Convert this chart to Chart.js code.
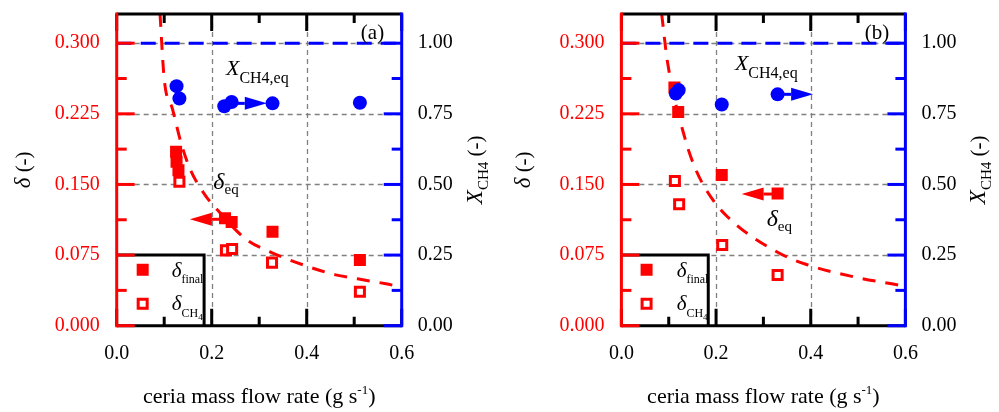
<!DOCTYPE html>
<html><head><meta charset="utf-8">
<script src="https://cdn.jsdelivr.net/npm/chart.js@4.4.0/dist/chart.umd.min.js"></script>
<style>
html,body{margin:0;padding:0;background:#fff;}
#wrap{position:relative;width:999px;height:412px;overflow:hidden;}
.pane{position:absolute;top:0;height:412px;}
#pa{left:0;width:500px;}
#pb{left:500px;width:499px;}
</style></head><body>
<div id="wrap"><div class="pane" id="pa"><canvas id="ca" width="500" height="412"></canvas></div><div class="pane" id="pb"><canvas id="cb" width="499" height="412"></canvas></div></div>
<script>
// ---------- shared axis values ----------
const xTicks = [0, 0.2, 0.4, 0.6];
const xMinorTicks = [0.1, 0.3, 0.5];
const deltaTicks = [0, 0.075, 0.15, 0.225, 0.3];
const deltaMinorTicks = [0.0375, 0.1125, 0.1875, 0.2625];
const xch4Ticks = [0, 0.25, 0.5, 0.75, 1.0];
const xch4MinorTicks = [0.125, 0.375, 0.625, 0.875];
const xGrid = [0.2, 0.4];
const deltaGrid = [0.075, 0.15, 0.225, 0.3];
const X_MIN = 0, X_MAX = 0.6, DELTA_MAX = 0.331, XCH4_MAX = 0.331 / 0.3;

// equilibrium conversion line (X_CH4,eq)
const eqLineX = [0, 0.6];
const eqLineXch4 = [1.0, 1.0];

// ---------- panel (a) ----------
const aFinalX = [0.125, 0.126, 0.130, 0.228, 0.242, 0.328, 0.512];
const aFinalDelta = [0.1847, 0.174, 0.165, 0.114, 0.110, 0.0997, 0.0697];
const aCH4X = [0.132, 0.230, 0.243, 0.327, 0.512];
const aCH4Delta = [0.1528, 0.080, 0.0814, 0.067, 0.036];
const aConvX = [0.126, 0.132, 0.2265, 0.242, 0.328, 0.512];
const aConvXch4 = [0.848, 0.804, 0.777, 0.792, 0.787, 0.789];
const aEqCurveX = [0.0912, 0.1, 0.1175, 0.135, 0.154, 0.1876, 0.2, 0.2718, 0.3227, 0.398, 0.461, 0.507, 0.5665, 0.6];
const aEqCurveDelta = [0.331, 0.262, 0.230, 0.195, 0.167, 0.1376, 0.130, 0.092, 0.0785, 0.0636, 0.054, 0.0498, 0.0445, 0.041];
const aArrowXch4 = [0.242, 0.316, 0.787];   // from x, to x, X_CH4
const aArrowDelta = [0.230, 0.154, 0.113];  // from x, to x, delta

// ---------- panel (b) ----------
const bFinalX = [0.112, 0.120, 0.212, 0.330];
const bFinalDelta = [0.253, 0.227, 0.160, 0.1405];
const bCH4X = [0.113, 0.122, 0.213, 0.330];
const bCH4Delta = [0.1536, 0.129, 0.0856, 0.0538];
const bConvX = [0.115, 0.121, 0.212, 0.330];
const bConvXch4 = [0.822, 0.834, 0.783, 0.819];
const bEqCurveX = [0.0851, 0.0974, 0.136, 0.157, 0.182, 0.224, 0.328, 0.391, 0.506, 0.571, 0.6];
const bEqCurveDelta = [0.331, 0.280, 0.196, 0.166, 0.142, 0.1157, 0.0785, 0.065, 0.0503, 0.0445, 0.042];
const bArrowXch4 = [0.330, 0.405, 0.819];
const bArrowDelta = [0.330, 0.254, 0.1398];

// ---------- styling ----------
const RED = '#ff0000', BLUE = '#0000ff', GRAY = '#808080';
const SERIF = '"Liberation Serif", "Times New Roman", serif';
const f = (s, style) => (style ? style + ' ' : '') + s + 'px ' + SERIF;

function pts(xs, ys) { return xs.map((x, i) => ({ x: x, y: ys[i] })); }

function drawRich(ctx, x, y, segs, align) {
  let w = 0;
  segs.forEach(s => { ctx.font = s.f; s.w = ctx.measureText(s.t).width; w += s.w; });
  let cx = align === 'center' ? x - w / 2 : x;
  ctx.textBaseline = 'alphabetic';
  ctx.textAlign = 'left';
  segs.forEach(s => { ctx.font = s.f; ctx.fillText(s.t, cx, y + (s.dy || 0)); cx += s.w; });
}

function drawArrow(ctx, xs, yScale, arr, color) {
  const p0 = xs.getPixelForValue(arr[0]);
  const p1 = xs.getPixelForValue(arr[1]);
  const py = yScale.getPixelForValue(arr[2]);
  const dir = Math.sign(p1 - p0);
  const hl = 22, hw = 6.5;
  const base = p1 - dir * hl;
  ctx.save();
  ctx.strokeStyle = color; ctx.fillStyle = color; ctx.lineWidth = 3; ctx.setLineDash([]);
  ctx.beginPath(); ctx.moveTo(p0, py); ctx.lineTo(base, py); ctx.stroke();
  ctx.beginPath(); ctx.moveTo(p1, py); ctx.lineTo(base, py - hw); ctx.lineTo(base, py + hw); ctx.closePath(); ctx.fill();
  ctx.restore();
}

function zeroPad(s) { s.paddingTop = 0; s.paddingBottom = 0; s.paddingLeft = 0; s.paddingRight = 0; }

function makePanel(canvasId, d) {
  const decor = {
    id: 'decor' + canvasId,
    beforeDatasetsDraw(chart) {
      const { ctx, chartArea: a, scales } = chart;
      ctx.save();
      ctx.strokeStyle = GRAY; ctx.lineWidth = 1.3; ctx.setLineDash([5, 4]);
      xGrid.forEach(v => { const p = Math.round(scales.x.getPixelForValue(v)) + 0.5; ctx.beginPath(); ctx.moveTo(p, a.top); ctx.lineTo(p, a.bottom); ctx.stroke(); });
      deltaGrid.forEach(v => { const p = Math.round(scales.y.getPixelForValue(v)) + 0.5; ctx.beginPath(); ctx.moveTo(a.left, p); ctx.lineTo(a.right, p); ctx.stroke(); });
      ctx.restore();
    },
    afterDatasetsDraw(chart) {
      const { ctx, chartArea: a, scales } = chart;
      const xs = scales.x, ys = scales.y, y2 = scales.y2;
      ctx.save();
      ctx.setLineDash([]);
      // legend box
      const bx1 = xs.getPixelForValue(d.legendBoxX), by0 = ys.getPixelForValue(0.075);
      ctx.fillStyle = '#fff'; ctx.fillRect(a.left, by0, bx1 - a.left, a.bottom - by0);
      ctx.strokeStyle = '#000'; ctx.lineWidth = 3;
      ctx.beginPath(); ctx.moveTo(a.left, by0); ctx.lineTo(bx1, by0); ctx.lineTo(bx1, a.bottom); ctx.stroke();
      const mx = xs.getPixelForValue(d.legendMarkX);
      const m1 = ys.getPixelForValue(d.legendMarkY[0]), m2 = ys.getPixelForValue(d.legendMarkY[1]);
      ctx.fillStyle = RED; ctx.fillRect(mx - 6, m1 - 6, 12, 12);
      ctx.strokeStyle = RED; ctx.lineWidth = 3; ctx.strokeRect(mx - 4.5, m2 - 4.5, 9, 9);
      ctx.fillStyle = '#000';
      const lx = xs.getPixelForValue(d.legendTextX);
      drawRich(ctx, lx, ys.getPixelForValue(d.legendTextY[0]), [{ t: 'δ', f: f(21, 'italic') }, { t: 'final', f: f(12), dy: 6 }], 'left');
      drawRich(ctx, lx, ys.getPixelForValue(d.legendTextY[1]), [{ t: 'δ', f: f(21, 'italic') }, { t: 'CH', f: f(12), dy: 7 }, { t: '4', f: f(9), dy: 10 }], 'left');
      // frame
      ctx.lineWidth = 3; ctx.strokeStyle = '#000';
      ctx.beginPath(); ctx.moveTo(a.left, a.top); ctx.lineTo(a.right, a.top); ctx.moveTo(a.left, a.bottom); ctx.lineTo(a.right, a.bottom); ctx.stroke();
      const xtick = (v, len) => { const p = xs.getPixelForValue(v); ctx.beginPath(); ctx.moveTo(p, a.bottom); ctx.lineTo(p, a.bottom - len); ctx.moveTo(p, a.top); ctx.lineTo(p, a.top + len); ctx.stroke(); };
      xTicks.forEach(v => xtick(v, 17)); xMinorTicks.forEach(v => xtick(v, 9));
      ctx.strokeStyle = RED;
      ctx.beginPath(); ctx.moveTo(a.left, a.top - 1.5); ctx.lineTo(a.left, a.bottom + 1.5); ctx.stroke();
      const ltick = (v, len) => { const p = ys.getPixelForValue(v); ctx.beginPath(); ctx.moveTo(a.left, p); ctx.lineTo(a.left + len, p); ctx.stroke(); };
      deltaTicks.forEach(v => ltick(v, 18)); deltaMinorTicks.forEach(v => ltick(v, 10));
      ctx.strokeStyle = BLUE;
      ctx.beginPath(); ctx.moveTo(a.right, a.top - 1.5); ctx.lineTo(a.right, a.bottom + 1.5); ctx.stroke();
      const rtick = (v, len) => { const p = y2.getPixelForValue(v); ctx.beginPath(); ctx.moveTo(a.right, p); ctx.lineTo(a.right - len, p); ctx.stroke(); };
      xch4Ticks.forEach(v => rtick(v, 18)); xch4MinorTicks.forEach(v => rtick(v, 10));
      // arrows
      drawArrow(ctx, xs, y2, d.arrowXch4, BLUE);
      drawArrow(ctx, xs, ys, d.arrowDelta, RED);
      // annotations
      ctx.fillStyle = '#000';
      ctx.font = f(21); ctx.textAlign = 'center'; ctx.textBaseline = 'middle';
      ctx.fillText(d.label, xs.getPixelForValue(d.labelPos[0]), ys.getPixelForValue(d.labelPos[1]));
      drawRich(ctx, xs.getPixelForValue(d.xeqPos[0]), y2.getPixelForValue(d.xeqPos[1]), [{ t: 'X', f: f(22, 'italic') }, { t: 'CH4,eq', f: f(16), dy: 7.5 }], 'left');
      drawRich(ctx, xs.getPixelForValue(d.deqPos[0]), ys.getPixelForValue(d.deqPos[1]), [{ t: 'δ', f: f(24, 'italic') }, { t: 'eq', f: f(15), dy: 5 }], 'left');
      // axis titles
      ctx.save();
      ctx.translate(22, (a.top + a.bottom) / 2); ctx.rotate(-Math.PI / 2);
      drawRich(ctx, 0, 8, [{ t: 'δ', f: f(23, 'italic') }, { t: ' (-)', f: f(21) }], 'center');
      ctx.restore();
      ctx.save();
      ctx.translate(a.right + 73, (a.top + a.bottom) / 2); ctx.rotate(-Math.PI / 2);
      drawRich(ctx, 0, 7, [{ t: 'X', f: f(23, 'italic') }, { t: 'CH4', f: f(15), dy: 6 }, { t: ' (-)', f: f(21) }], 'center');
      ctx.restore();
      drawRich(ctx, (a.left + a.right) / 2, 403, [{ t: 'ceria mass flow rate (g s', f: f(22) }, { t: '-1', f: f(13), dy: -9 }, { t: ')', f: f(22) }], 'center');
      ctx.restore();
    }
  };

  return new Chart(document.getElementById(canvasId), {
    data: {
      datasets: [
        { type: 'scatter', yAxisID: 'y2', data: pts(d.convX, d.convY), pointStyle: 'circle', pointRadius: 7, pointBackgroundColor: BLUE, pointBorderWidth: 0 },
        { type: 'scatter', yAxisID: 'y', data: pts(d.ch4X, d.ch4Y), pointStyle: 'rect', pointRadius: 6.4, pointBackgroundColor: '#fff', pointBorderColor: RED, pointBorderWidth: 3 },
        { type: 'scatter', yAxisID: 'y', data: pts(d.finalX, d.finalY), pointStyle: 'rect', pointRadius: 8.5, pointBackgroundColor: RED, pointBorderWidth: 0 },
        { type: 'line', yAxisID: 'y', data: pts(d.curveX, d.curveY), borderColor: RED, borderWidth: 3, borderDash: [13, 10], pointRadius: 0, cubicInterpolationMode: 'monotone', fill: false },
        { type: 'line', yAxisID: 'y2', data: pts(eqLineX, eqLineXch4), borderColor: BLUE, borderWidth: 3, borderDash: [15, 9], pointRadius: 0, fill: false }
      ]
    },
    options: {
      responsive: false, animation: false, devicePixelRatio: 1,
      layout: { padding: { top: 14, left: 0, right: 0, bottom: 0 } },
      plugins: { legend: { display: false }, tooltip: { enabled: false } },
      scales: {
        x: {
          type: 'linear', position: 'bottom', min: X_MIN, max: X_MAX,
          afterBuildTicks: s => { s.ticks = xTicks.map(v => ({ value: v })); },
          afterFit: s => { s.height = d.bottomH; zeroPad(s); },
          grid: { display: false, drawTicks: false }, border: { display: false },
          ticks: { autoSkip: false, maxRotation: 0, padding: 16, color: '#000', font: { family: SERIF, size: 20 }, callback: v => Number(v).toFixed(1) }
        },
        y: {
          type: 'linear', position: 'left', min: 0, max: DELTA_MAX,
          afterBuildTicks: s => { s.ticks = deltaTicks.map(v => ({ value: v })); },
          afterFit: s => { s.width = d.leftW; zeroPad(s); },
          grid: { display: false, drawTicks: false }, border: { display: false },
          ticks: { autoSkip: false, padding: 17, color: RED, font: { family: SERIF, size: 20 }, callback: v => Number(v).toFixed(3) }
        },
        y2: {
          type: 'linear', position: 'right', min: 0, max: XCH4_MAX,
          afterBuildTicks: s => { s.ticks = xch4Ticks.map(v => ({ value: v })); },
          afterFit: s => { s.width = d.rightW; zeroPad(s); },
          grid: { display: false, drawTicks: false }, border: { display: false },
          ticks: { autoSkip: false, padding: 16, color: '#000', font: { family: SERIF, size: 20 }, callback: v => Number(v).toFixed(2) }
        }
      }
    },
    plugins: [decor]
  });
}

makePanel('ca', {
  finalX: aFinalX, finalY: aFinalDelta, ch4X: aCH4X, ch4Y: aCH4Delta, convX: aConvX, convY: aConvXch4,
  curveX: aEqCurveX, curveY: aEqCurveDelta, arrowXch4: aArrowXch4, arrowDelta: aArrowDelta,
  label: '(a)', labelPos: [0.5385, 0.3101], xeqPos: [0.230, 0.887], deqPos: [0.2034, 0.1451],
  legendBoxX: 0.184, legendMarkX: 0.0547, legendMarkY: [0.0594, 0.0233], legendTextX: 0.1158, legendTextY: [0.0517, 0.0167],
  leftW: 116.7, rightW: 98.3, bottomH: 86.3
});
makePanel('cb', {
  finalX: bFinalX, finalY: bFinalDelta, ch4X: bCH4X, ch4Y: bCH4Delta, convX: bConvX, convY: bConvXch4,
  curveX: bEqCurveX, curveY: bEqCurveDelta, arrowXch4: bArrowXch4, arrowDelta: bArrowDelta,
  label: '(b)', labelPos: [0.540, 0.3101], xeqPos: [0.2398, 0.9045], deqPos: [0.3069, 0.1058],
  legendBoxX: 0.1835, legendMarkX: 0.0532, legendMarkY: [0.0594, 0.0233], legendTextX: 0.1167, legendTextY: [0.0517, 0.0167],
  leftW: 121.4, rightW: 93.6, bottomH: 86.3
});
</script>
</body></html>
